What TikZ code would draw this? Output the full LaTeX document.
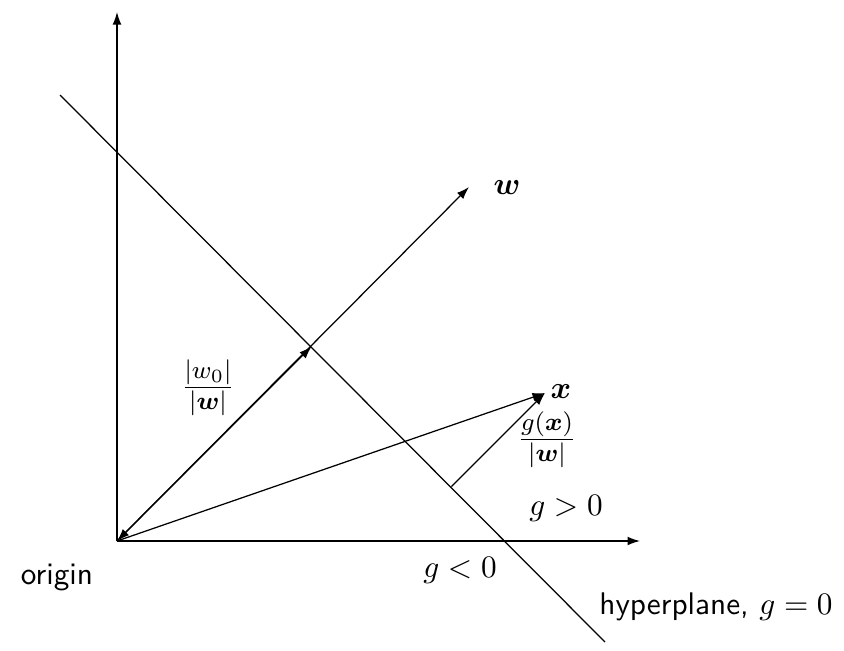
\documentclass[tikz,border=0pt]{standalone}
\usepackage{amsmath,bm}
\usetikzlibrary{arrows.meta}
\tikzset{
  axis/.style={line width=0.4pt,-{Latex[length=4pt,width=2.8pt]}},
  vec/.style={line width=0.4pt,-{Latex[length=4pt,width=2.8pt]}},
  dvec/.style={line width=0.4pt,{Latex[length=4pt,width=2.8pt]}-{Latex[length=4pt,width=2.8pt]}},
  plain/.style={line width=0.4pt},
  lbl/.style={inner sep=0pt},
  frac/.style={inner sep=0pt,font=\fontsize{11.5}{13}\selectfont}
}
\begin{document}
\begin{tikzpicture}[x=0.32pt,y=-0.32pt]
\useasboundingbox (0,0) rectangle (844,650);
\coordinate (O) at (117,541);
\coordinate (Ytop) at (117,12);
\coordinate (Xend) at (640,541);
\coordinate (H1) at (60,95);
\coordinate (H2) at (605,642);
\coordinate (W) at (469,187);
\coordinate (I) at (311.5,346.5);
\coordinate (X) at (545,393);
\coordinate (F) at (451.5,486.5);
\draw[axis] (O) -- (Ytop);
\draw[axis] (O) -- (Xend);
\draw[plain] (H1) -- (H2);
\draw[vec] (O) -- (W);
\draw[dvec] (O) -- (I);
\draw[vec] (O) -- (X);
\draw[vec] (F) -- (X);
\node[lbl] (wl) at (507,188) {$\bm{w}$};
\node[frac] (w0l) at (208,388) {$\frac{|w_0|}{|\bm{w}|}$};
\node[lbl] (xl) at (561,392) {$\bm{x}$};
\node[frac] (gxl) at (547,440) {$\frac{g(\bm{x})}{|\bm{w}|}$};
\node[lbl] (gpos) at (566,508) {$g>0$};
\node[lbl] (gneg) at (460,570) {$g<0$};
\node[lbl] (orig) at (57,577) {\sffamily origin};
\node[lbl] (hyp) at (716,607) {\sffamily hyperplane, $g=0$};
\end{tikzpicture}
\end{document}
